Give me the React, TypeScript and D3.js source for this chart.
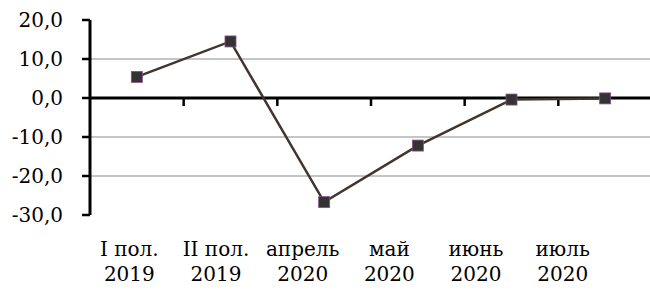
import React, { useEffect, useRef } from 'react';
import * as d3 from 'd3';

const categories = ['I пол.|2019', 'II пол.|2019', 'апрель|2020', 'май|2020', 'июнь|2020', 'июль|2020'];
const values = [5.4, 14.5, -26.7, -12.2, -0.4, -0.1];
const yTicks = [20, 10, 0, -10, -20, -30];
const gridValues = [10, -10, -20];

const App: React.FC = () => {
  const svgRef = useRef<SVGSVGElement>(null);

  useEffect(() => {
    if (!svgRef.current) return;
    const svg = d3.select(svgRef.current);
    svg.selectAll('*').remove();

    const font = '"DejaVu Serif", serif';
    const fontSize = 20;
    const left = 90;
    const right = 652;

    const x = d3.scaleBand<string>().domain(categories).range([left, right]);
    const xLabel = d3.scaleBand<string>().domain(categories).range([86, 606]);
    const y = d3.scaleLinear().domain([-30, 20]).range([215, 20]);

    // gridlines
    svg.append('g')
      .selectAll('line')
      .data(gridValues)
      .join('line')
      .attr('x1', left)
      .attr('x2', 650)
      .attr('y1', d => y(d))
      .attr('y2', d => y(d))
      .attr('stroke', '#8a8a8a')
      .attr('stroke-width', 1);

    // y axis
    svg.append('line')
      .attr('x1', left).attr('x2', left)
      .attr('y1', y(20)).attr('y2', y(-30))
      .attr('stroke', '#000').attr('stroke-width', 3);

    svg.append('g')
      .selectAll('line')
      .data(yTicks)
      .join('line')
      .attr('x1', left - 8)
      .attr('x2', left)
      .attr('y1', d => y(d))
      .attr('y2', d => y(d))
      .attr('stroke', '#000')
      .attr('stroke-width', 2.5);

    svg.append('g')
      .selectAll('text')
      .data(yTicks)
      .join('text')
      .attr('x', 63)
      .attr('y', d => y(d) + 7)
      .attr('text-anchor', 'end')
      .attr('font-family', font)
      .attr('font-size', fontSize)
      .attr('fill', '#000')
      .text(d => d3.format('.1f')(d).replace('.', ',').replace('−', '-'));

    // zero line
    svg.append('line')
      .attr('x1', left).attr('x2', 650)
      .attr('y1', y(0)).attr('y2', y(0))
      .attr('stroke', '#000').attr('stroke-width', 3);

    const tickXs = categories.map(c => (x(c) as number) + x.bandwidth());
    svg.append('g')
      .selectAll('line')
      .data(tickXs)
      .join('line')
      .attr('x1', d => d)
      .attr('x2', d => d)
      .attr('y1', y(0))
      .attr('y2', y(0) + 8)
      .attr('stroke', '#000')
      .attr('stroke-width', 2.5);

    // x labels
    const lab = svg.append('g')
      .selectAll('text')
      .data(categories)
      .join('text')
      .attr('text-anchor', 'middle')
      .attr('font-family', font)
      .attr('font-size', fontSize)
      .attr('fill', '#000');
    lab.append('tspan')
      .attr('x', d => (xLabel(d) as number) + xLabel.bandwidth() / 2)
      .attr('y', 256)
      .text(d => d.split('|')[0]);
    lab.append('tspan')
      .attr('x', d => (xLabel(d) as number) + xLabel.bandwidth() / 2)
      .attr('y', 281)
      .text(d => d.split('|')[1]);

    // line
    const pts = categories.map((c, i) => ({ c, v: values[i] }));
    const line = d3.line<{ c: string; v: number }>()
      .x(d => (x(d.c) as number) + x.bandwidth() / 2)
      .y(d => y(d.v));

    svg.append('path')
      .datum(pts)
      .attr('fill', 'none')
      .attr('stroke', '#3f3630')
      .attr('stroke-width', 2.5)
      .attr('d', line);

    const s = 11;
    svg.append('g')
      .selectAll('rect')
      .data(pts)
      .join('rect')
      .attr('x', d => (x(d.c) as number) + x.bandwidth() / 2 - s / 2)
      .attr('y', d => y(d.v) - s / 2)
      .attr('width', s)
      .attr('height', s)
      .attr('fill', '#333333')
      .attr('stroke', '#8a4f86')
      .attr('stroke-width', 0.8);
  }, []);

  return (
    <svg
      ref={svgRef}
      width={650}
      height={300}
      style={{ position: 'absolute', left: 0, top: 0, background: '#fff' }}
    />
  );
};

export default App;
